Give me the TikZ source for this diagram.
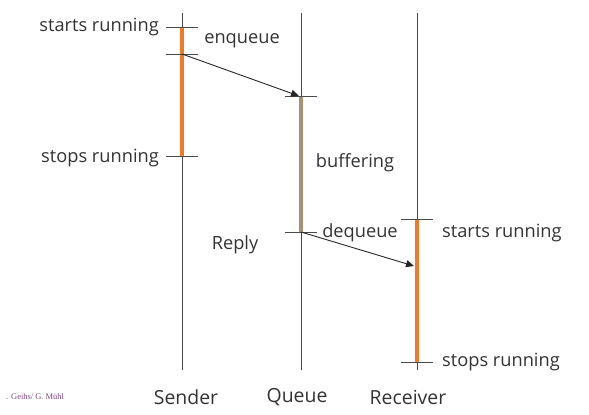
\documentclass[tikz,border=0pt]{standalone}
\usepackage{fontspec}
\setmainfont{Open Sans}
\newfontfamily\credfont{Liberation Serif}
\usetikzlibrary{arrows.meta}
\definecolor{lineg}{HTML}{4A4A4A}
\definecolor{txt}{HTML}{333333}
\definecolor{orng}{HTML}{F07A2A}
\definecolor{brwn}{HTML}{A89070}
\tikzset{
  life/.style={draw=lineg, line width=0.9bp},
  tick/.style={draw=lineg, line width=0.9bp},
  bar/.style={line width=4bp},
  msg/.style={draw=black!85, line width=0.9bp, -{Triangle[length=8bp,width=7bp]}},
  lbl/.style={text=txt, font=\fontsize{18.3}{21}\selectfont, inner sep=0pt},
  head/.style={text=txt, font=\fontsize{19.5}{22}\selectfont, inner sep=0pt},
}
\begin{document}
\begin{tikzpicture}[x=1bp,y=-1bp]
\useasboundingbox (0,0) rectangle (589,414);
% lifelines
\coordinate (sT) at (182,13); \coordinate (sB) at (182,370);
\coordinate (qT) at (301,13); \coordinate (qB) at (301,370);
\coordinate (rT) at (417,13); \coordinate (rB) at (417,370);
% events
\coordinate (s1) at (182,27); \coordinate (s2) at (182,54); \coordinate (s3) at (182,156);
\coordinate (q1) at (301,96); \coordinate (q2) at (301,232);
\coordinate (r1) at (417,219); \coordinate (r2) at (417,362);
\draw[life] (sT) -- (sB);
\draw[life] (qT) -- (qB);
\draw[life] (rT) -- (rB);
\draw[bar, orng] (s1) -- (s3);
\draw[bar, brwn] (q1) -- (q2);
\draw[bar, orng] (r1) -- (r2);
\foreach \c in {s1,s2,s3,q1,q2,r1,r2}
  \draw[tick] ([xshift=-16bp]\c) -- ([xshift=16bp]\c);
\draw[msg] (s2) -- ([xshift=-2bp]q1);
\draw[msg] (q2) -- (414,266) coordinate (rm);
% labels
\node[lbl, anchor=east] (l1) at (159,27) {starts running};
\node[lbl] (l2) at (242,41) {enqueue};
\node[lbl, anchor=east] (l3) at (159,158) {stops running};
\node[lbl] (l4) at (355,163) {buffering};
\node[lbl] (l5) at (235,245) {Reply};
\node[lbl] (l6) at (360,233) {dequeue};
\node[lbl, anchor=west] (l7) at (442,233) {starts running};
\node[lbl, anchor=west] (l8) at (442,362) {stops running};
\node[head] (h1) at (186,397) {Sender};
\node[head] (h2) at (297,397) {Queue};
\node[head] (h3) at (408,397) {Receiver};
\node[text=violet!45!gray, font=\credfont\fontsize{8.5}{9}\selectfont, inner sep=0pt, anchor=west] (cr) at (6,397) {. Geihs/ G. Mühl};
\end{tikzpicture}
\end{document}
